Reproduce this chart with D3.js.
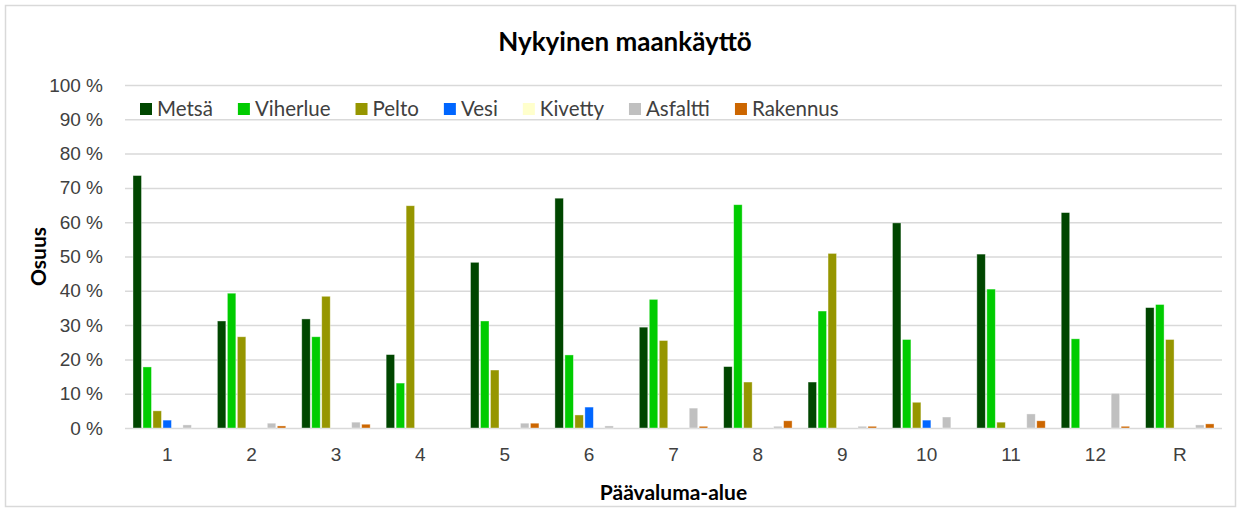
<!DOCTYPE html>
<html>
<head>
<meta charset="utf-8">
<script src="https://cdn.jsdelivr.net/npm/d3@7"></script>
<style>
  html, body { margin: 0; padding: 0; background: #fff; }
  svg { display: block; font-family: Lato, "Open Sans", sans-serif; }
  .axis path { display: none; }
  .y-axis line { stroke: #d9d9d9; stroke-width: 1.5; }
  .x-axis line { display: none; }
  .axis text { fill: #404040; font-size: 19px; }
</style>
</head>
<body>
<svg id="chart"></svg>
<script>
var categories = ["1", "2", "3", "4", "5", "6", "7", "8", "9", "10", "11", "12", "R"];
var series = ["Metsä", "Viherlue", "Pelto", "Vesi", "Kivetty", "Asfaltti", "Rakennus"];
var colors = ["#004600", "#00cc00", "#969600", "#0066ff", "#ffffcc", "#c0c0c0", "#cc6600"];

// osuus (%) per päävaluma-alue
var metsa    = [73.6, 31.2, 31.8, 21.4, 48.3, 67.0, 29.4, 17.9, 13.4, 59.8, 50.7, 62.8, 35.1];
var viherlue = [17.8, 39.3, 26.6, 13.1, 31.2, 21.3, 37.5, 65.1, 34.1, 25.8, 40.5, 26.0, 36.0];
var pelto    = [5.0, 26.6, 38.4, 64.8, 16.9, 3.8, 25.5, 13.4, 50.9, 7.5, 1.7, 0, 25.8];
var vesi     = [2.3, 0, 0, 0, 0, 6.1, 0, 0, 0, 2.3, 0, 0, 0];
var kivetty  = [0, 0, 0, 0, 0, 0, 0, 0, 0, 0, 0, 0, 0];
var asfaltti = [0.9, 1.4, 1.7, 0, 1.4, 0.6, 5.8, 0.5, 0.5, 3.2, 4.1, 10.1, 0.9];
var rakennus = [0, 0.6, 1.1, 0, 1.4, 0, 0.5, 2.1, 0.5, 0, 2.1, 0.5, 1.2];

var yTicks = [0, 10, 20, 30, 40, 50, 60, 70, 80, 90, 100];

var values = [metsa, viherlue, pelto, vesi, kivetty, asfaltti, rakennus];

var width = 1241, height = 511;
var padding = { top: 85, right: 19, bottom: 83, left: 125 };

var svg = d3.select("#chart")
            .attr("width", width)
            .attr("height", height);

// chart border
svg.append("rect")
    .attr("x", 5.5).attr("y", 5.5)
    .attr("width", 1230).attr("height", 501)
    .attr("fill", "#fff")
    .attr("stroke", "#d9d9d9")
    .attr("stroke-width", 1.5);

var x0 = d3.scaleBand()
           .domain(categories)
           .range([padding.left, width - padding.right]);

var x1 = d3.scaleBand()
           .domain(series)
           .range([0, x0.bandwidth()])
           .paddingInner(0.15)
           .paddingOuter(0.8);

var yScale = d3.scaleLinear()
               .domain([0, 100])
               .range([height - padding.bottom, padding.top]);

var yAxis = d3.axisLeft(yScale)
              .tickValues(yTicks)
              .tickFormat(d => d + " %")
              .tickSize(-(width - padding.left - padding.right))
              .tickPadding(22);

svg.append("g")
    .classed("axis y-axis", true)
    .attr("transform", "translate(" + padding.left + ",0)")
    .call(yAxis);

var xAxis = d3.axisBottom(x0)
              .tickSize(0)
              .tickPadding(20);

svg.append("g")
    .classed("axis x-axis", true)
    .attr("transform", "translate(0," + (height - padding.bottom) + ")")
    .call(xAxis);

var groups = svg.selectAll(".group")
                .data(categories)
                .enter()
                .append("g")
                  .classed("group", true)
                  .attr("transform", d => "translate(" + x0(d) + ",0)");

groups.selectAll("rect")
    .data((c, i) => series.map((s, j) => ({ series: s, value: values[j][i], color: colors[j] })))
    .enter()
    .append("rect")
      .attr("x", d => x1(d.series))
      .attr("width", x1.bandwidth())
      .attr("y", d => yScale(d.value))
      .attr("height", d => yScale(0) - yScale(d.value))
      .attr("fill", d => d.color)
      .attr("stroke", "#fff")
      .attr("stroke-opacity", 0.5)
      .attr("stroke-width", 0.75);

// title
svg.append("text")
    .attr("x", 625)
    .attr("y", 51)
    .attr("text-anchor", "middle")
    .style("font-size", "26px")
    .style("font-weight", "bold")
    .attr("fill", "#000")
    .text("Nykyinen maankäyttö");

// axis titles
svg.append("text")
    .attr("transform", "translate(46," + ((padding.top + height - padding.bottom) / 2) + ") rotate(-90)")
    .attr("text-anchor", "middle")
    .style("font-size", "21px")
    .style("font-weight", "bold")
    .attr("fill", "#000")
    .text("Osuus");

svg.append("text")
    .attr("x", (padding.left + width - padding.right) / 2)
    .attr("y", 500)
    .attr("text-anchor", "middle")
    .style("font-size", "21px")
    .style("font-weight", "bold")
    .attr("fill", "#000")
    .text("Päävaluma-alue");

// legend
var legend = svg.append("g").attr("transform", "translate(140,109)");
var lx = 0;
series.forEach(function(s, i) {
  var item = legend.append("g").attr("transform", "translate(" + lx + ",0)");
  item.append("rect")
      .attr("x", 0).attr("y", -6)
      .attr("width", 12).attr("height", 12)
      .attr("fill", colors[i]);
  var t = item.append("text")
      .attr("x", 17)
      .attr("dy", "0.35em")
      .style("font-size", "20.5px")
      .attr("fill", "#404040")
      .text(s);
  lx += 17 + t.node().getComputedTextLength() + 25;
});
</script>
</body>
</html>
